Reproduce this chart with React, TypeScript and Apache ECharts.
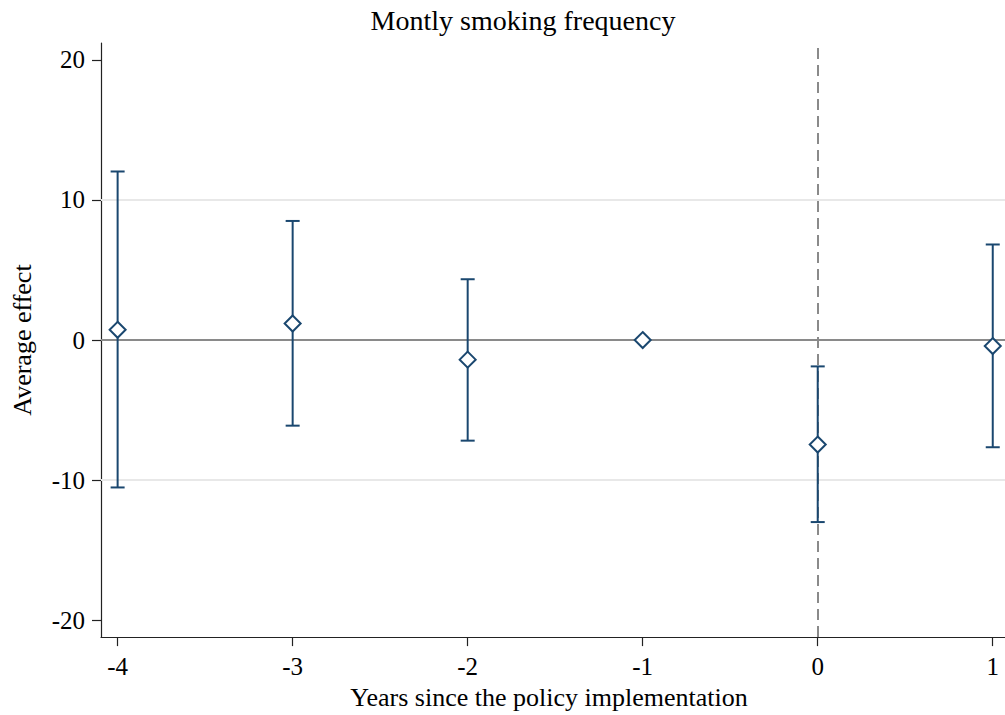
import React, { useEffect, useRef } from "react";
import * as echarts from "echarts";

const years = [-4, -3, -2, -1, 0, 1];
const estimates = [0.73, 1.18, -1.4, 0, -7.46, -0.43];
const upperCI: (number | null)[] = [12.03, 8.5, 4.34, null, -1.88, 6.82];
const lowerCI: (number | null)[] = [-10.52, -6.11, -7.18, null, -12.99, -7.65];
const xTicks = [-4, -3, -2, -1, 0, 1];
const yTicks = [-20, -10, 0, 10, 20];
const gridLinesY = [10, -10];

const NAVY = "#1a476f";
const FONT = "Liberation Serif";

export default function App() {
  const ref = useRef<HTMLDivElement>(null);
  useEffect(() => {
    if (!ref.current) return;
    const chart = echarts.init(ref.current, null, { renderer: "svg" });
    const ciData = years
      .map((y, i) => [y, lowerCI[i], upperCI[i]])
      .filter((d) => d[1] !== null && d[2] !== null);
    const option: any = {
      animation: false,
      backgroundColor: "#ffffff",
      textStyle: { fontFamily: FONT },
      title: {
        text: "Montly smoking frequency",
        left: 518,
        textAlign: "center",
        top: 1,
        textStyle: { fontFamily: FONT, fontSize: 28, fontWeight: "normal", color: "#000" },
      },
      grid: { left: 101, right: 0, top: 43, bottom: 76, containLabel: false },
      xAxis: {
        type: "value",
        min: -4.095,
        max: 1.07,
        name: "Years since the policy implementation",
        nameLocation: "middle",
        nameGap: 42,
        nameTextStyle: { fontFamily: FONT, fontSize: 26, color: "#000", padding: [0, 8, 0, 0] },
        axisLine: { show: true, onZero: false, lineStyle: { color: "#222", width: 1.2 } },
        axisTick: { show: true, customValues: xTicks, length: 9, lineStyle: { color: "#222", width: 1.2 } },
        axisLabel: { customValues: xTicks, margin: 17, fontFamily: FONT, fontSize: 25, color: "#000" },
        splitLine: { show: false },
      },
      yAxis: {
        type: "value",
        min: -21.2,
        max: 21.2,
        name: "Average effect",
        nameLocation: "middle",
        nameGap: 66,
        nameTextStyle: { fontFamily: FONT, fontSize: 26, color: "#000" },
        axisLine: { show: true, onZero: false, lineStyle: { color: "#222", width: 1.2 } },
        axisTick: { show: true, customValues: yTicks, length: 9, lineStyle: { color: "#222", width: 1.2 } },
        axisLabel: { customValues: yTicks, margin: 16, fontFamily: FONT, fontSize: 25, color: "#000" },
        splitLine: { show: false },
      },
      series: [
        {
          type: "line",
          data: [],
          z: 1,
          markLine: {
            silent: true,
            z: 1,
            symbol: "none",
            label: { show: false },
            data: [
              ...gridLinesY.map((v) => ({ yAxis: v, lineStyle: { color: "#e8e8e8", width: 2, type: "solid" } })),
              { yAxis: 0, lineStyle: { color: "#8a8a8a", width: 2, type: "solid" } },
              { xAxis: 0, lineStyle: { color: "#8a8a8a", width: 2, type: [11, 6] } },
            ],
          },
        },
        {
          type: "custom",
          z: 3,
          data: ciData,
          renderItem: (params: any, api: any) => {
            const x = api.value(0);
            const lo = api.value(1);
            const hi = api.value(2);
            const pLo = api.coord([x, lo]);
            const pHi = api.coord([x, hi]);
            const hw = 7;
            const style = { stroke: NAVY, lineWidth: 2 };
            return {
              type: "group",
              children: [
                { type: "line", shape: { x1: pLo[0], y1: pLo[1], x2: pHi[0], y2: pHi[1] }, style },
                { type: "line", shape: { x1: pLo[0] - hw, y1: pLo[1], x2: pLo[0] + hw, y2: pLo[1] }, style },
                { type: "line", shape: { x1: pHi[0] - hw, y1: pHi[1], x2: pHi[0] + hw, y2: pHi[1] }, style },
              ],
            };
          },
        },
        {
          type: "scatter",
          z: 4,
          symbol: "diamond",
          symbolSize: 16,
          itemStyle: { color: "#ffffff", borderColor: NAVY, borderWidth: 2, opacity: 1 },
          data: years.map((y, i) => [y, estimates[i]]),
        },
      ],
    };
    chart.setOption(option);
    return () => chart.dispose();
  }, []);
  return (
    <div
      ref={ref}
      style={{ position: "fixed", left: 0, top: 0, width: 1005, height: 715, background: "#fff" }}
    />
  );
}
